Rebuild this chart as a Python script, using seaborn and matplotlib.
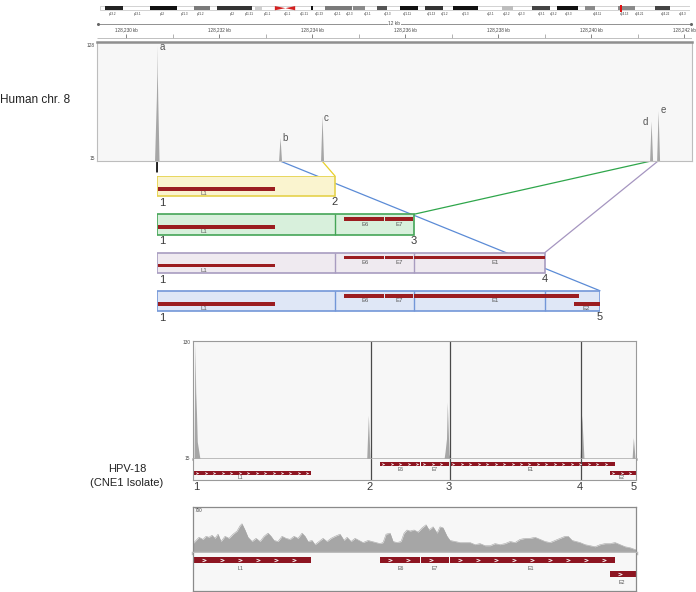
import numpy as np
import pandas as pd
import matplotlib
matplotlib.use("Agg")
import matplotlib.pyplot as plt
from matplotlib.patches import Rectangle, Polygon, ConnectionPatch
import seaborn as sns

sns.set_theme(style="white")
plt.rcParams["font.family"] = ["Liberation Sans", "DejaVu Sans"]

# ------------------------------------------------------------------ data
# chromosome 8 ideogram (Mb)
chr8_length_mb = 145.1
band_start_mb = [1.2, 12.3, 23.1, 28.8, 38.1, 51.9, 55.3, 62.2, 68.1, 73.8,
                 79.9, 86.8, 98.9, 106.2, 112.4, 119.3, 127.4, 136.5]
band_end_mb = [5.7, 18.9, 27.0, 37.4, 39.8, 52.4, 62.0, 65.2, 70.6, 78.2,
               84.3, 93.0, 101.6, 110.7, 117.5, 121.7, 131.6, 140.2]
band_color = ["#222222", "#111111", "#7a7a7a", "#333333", "#cfcfcf", "#111111",
              "#7a7a7a", "#8a8a8a", "#555555", "#111111", "#333333", "#111111",
              "#bdbdbd", "#444444", "#111111", "#8a8a8a", "#8a8a8a", "#444444"]
centromere_mb = [43.0, 45.6, 48.0]
band_label = ["p23.2", "p23.1", "p22", "p21.3", "p21.2", "p12", "p11.21", "p11.1",
              "q11.1", "q11.21", "q11.23", "q12.1", "q12.3", "q13.1", "q13.3",
              "q21.11", "q21.13", "q21.2", "q21.3", "q22.1", "q22.2", "q22.3",
              "q23.1", "q23.2", "q23.3", "q24.11", "q24.13", "q24.21", "q24.22", "q24.3"]
band_label_mb = [3.2, 9.3, 15.2, 20.7, 24.8, 32.5, 36.6, 41.1, 46.2, 50.2, 53.9,
                 58.5, 61.5, 65.9, 70.8, 75.5, 81.6, 84.8, 89.8, 96.1, 100.1,
                 103.8, 108.7, 111.6, 115.3, 122.4, 128.9, 132.8, 139.0, 143.2]
region_mb = 128.23

# ruler (kb)
view_kb = [128229.376, 128242.17]
ruler_major_kb = [128230, 128232, 128234, 128236, 128238, 128240, 128242]
ruler_minor_kb = [128231, 128233, 128235, 128237, 128239, 128241]
ruler_span_text = "12 kb"

# human chr8 read coverage
chr_range = [15, 128]
chr_pos_kb = [128229.376, 128230.613, 128230.652, 128230.662, 128230.667, 128230.673,
              128230.682, 128230.710, 128233.280, 128233.312, 128233.344, 128234.183,
              128234.215, 128234.247, 128241.258, 128241.290, 128241.323, 128241.409,
              128241.441, 128241.473, 128242.17]
chr_depth = [15, 15, 76, 100, 128, 100, 76, 15, 15, 38, 15, 15, 59, 15, 15, 54, 15,
             15, 64, 15, 15]
peak_name = ["a", "b", "c", "d", "e"]
peak_kb = [128230.667, 128233.312, 128234.215, 128241.290, 128241.441]
peak_depth = [128, 38, 59, 54, 64]

# HPV-18 genome
hpv_length = 7857
breakpoint_bp = [0, 3157, 4558, 6882, 7857]
breakpoint_label = ["1", "2", "3", "4", "5"]
gene_name = ["L1", "E6", "E7", "E1", "E2"]
gene_start = [18, 3317, 4044, 4558, 7390]
gene_end = [2093, 4026, 4540, 7480, 7857]
gene_lane = [1, 0, 0, 0, 1]          # schematic rows and junction panel
gene_lane_expanded = [0, 0, 0, 0, 1]  # coverage panel annotation
gene_label_bp = [840, 3690, 4290, 5990, 7610]

# junction reads on HPV-18 (CNE1 isolate)
junction_range = [15, 130]
junction_pos = [0, 18, 35, 48, 62, 76, 124, 3081, 3110, 3140, 4452, 4470, 4496, 4510,
                4541, 4559, 6865, 6895, 6935, 7787, 7810, 7841, 7857]
junction_depth = [15, 15, 129, 81, 60, 32, 15, 15, 58, 15, 15, 22, 35, 71, 20, 15, 15,
                  58, 15, 15, 36, 15, 15]

# total HPV-18 coverage
cov_max = 700
cov_pos = [0, 53, 106, 177, 231, 284, 337, 390, 444, 497, 568, 639, 710, 781, 834, 869,
           922, 976, 1047, 1118, 1189, 1260, 1331, 1384, 1437, 1508, 1579, 1650, 1721,
           1792, 1863, 1934, 1987, 2040, 2111, 2164, 2235, 2306, 2377, 2448, 2519, 2608,
           2679, 2732, 2803, 2874, 2945, 3016, 3105, 3175, 3246, 3317, 3371, 3424, 3495,
           3548, 3619, 3690, 3743, 3796, 3850, 3921, 3992, 4062, 4133, 4187, 4258, 4329,
           4382, 4435, 4506, 4559, 4648, 4737, 4825, 4914, 5003, 5091, 5180, 5269, 5357,
           5446, 5535, 5624, 5712, 5801, 5890, 5978, 6067, 6156, 6245, 6333, 6422, 6511,
           6599, 6653, 6724, 6794, 6865, 6954, 7043, 7131, 7220, 7309, 7398, 7486, 7575,
           7664, 7752, 7857]
cov_depth = [143, 191, 239, 207, 254, 239, 270, 223, 286, 175, 254, 223, 286, 334, 414,
             445, 350, 239, 175, 223, 175, 254, 302, 254, 191, 175, 254, 223, 207, 254,
             223, 302, 254, 175, 191, 127, 175, 223, 175, 223, 254, 286, 191, 239, 175,
             223, 191, 159, 191, 175, 159, 143, 159, 286, 302, 175, 159, 175, 302, 350,
             334, 350, 318, 382, 429, 350, 398, 302, 398, 382, 254, 191, 175, 159, 159,
             159, 127, 143, 111, 111, 143, 127, 143, 175, 159, 207, 223, 223, 239, 207,
             175, 159, 191, 223, 254, 254, 191, 175, 159, 127, 111, 95, 127, 143, 143,
             159, 127, 95, 80, 48]

# ------------------------------------------------------------------ style
row_fill = ["#faf4cf", "#d8f0dc", "#efeaf0", "#dfe7f6"]
row_edge = ["#e5d24c", "#45a557", "#a89cc0", "#7397d8"]
link_color = ["#111111", "#5b8bd6", "#e8d02a", "#2fa64b", "#a595c0"]
gene_red = "#9b1d20"
igv_red = "#8d1521"
panel_bg = "#f7f7f7"
frame_col = "#9a9a9a"
cov_col = "#a6a6a6"
text_col = "#3a3a3a"

W, H = 696, 592
fig = plt.figure(figsize=(W / 100, H / 100), dpi=100)


def px_axes(x0, y0, x1, y1):
    return fig.add_axes([x0 / W, 1 - y1 / H, (x1 - x0) / W, (y1 - y0) / H])


def frame(ax, color=frame_col, lw=0.8):
    for s in ax.spines.values():
        s.set_visible(True)
        s.set_color(color)
        s.set_linewidth(lw)
    ax.set_xticks([])
    ax.set_yticks([])


# ------------------------------------------------------------------ ideogram
ax_id = px_axes(100, 3, 690, 17)
ax_id.set_xlim(0, chr8_length_mb)
ax_id.set_ylim(1, 0)
ax_id.axis("off")
ax_id.add_patch(Rectangle((0, 0.22), chr8_length_mb, 0.3, fill=False, ec="#b0b0b0", lw=0.4))
for s, e, c in zip(band_start_mb, band_end_mb, band_color):
    ax_id.add_patch(Rectangle((s, 0.22), e - s, 0.3, fc=c, ec="none"))
c0, cm, c1 = centromere_mb
ax_id.add_patch(Polygon([(c0, 0.22), (cm, 0.37), (c0, 0.52)], fc="#d42020", ec="none"))
ax_id.add_patch(Polygon([(c1, 0.22), (cm, 0.37), (c1, 0.52)], fc="#d42020", ec="none"))
ax_id.add_patch(Rectangle((region_mb - 0.25, 0.12), 0.5, 0.5, fc="#e01010", ec="none"))
for name, pos in zip(band_label, band_label_mb):
    ax_id.text(pos, 0.8, name, fontsize=2.2, ha="center", va="center", color="#333333")

# ------------------------------------------------------------------ ruler
ax_r = px_axes(97, 17, 692, 40)
ax_r.set_xlim(*view_kb)
ax_r.set_ylim(1, 0)
ax_r.axis("off")
mid_kb = (view_kb[0] + view_kb[1]) / 2
ax_r.hlines(0.3, view_kb[0] + 0.03, view_kb[1] - 0.03, color="#666666", lw=0.5)
ax_r.plot([view_kb[0] + 0.03, view_kb[1] - 0.03], [0.3, 0.3], ls="none",
          marker="o", ms=1.2, color="#666666")
ax_r.text(mid_kb, 0.3, ruler_span_text, fontsize=3.4, ha="center", va="center",
          color="#444444", bbox=dict(fc="white", ec="none", pad=0.6))
for kb in ruler_major_kb:
    ax_r.vlines(kb, 0.72, 0.9, color="#555555", lw=0.5)
    ax_r.text(kb, 0.57, f"{kb:,} kb", fontsize=3.3, ha="center", va="center", color="#444444")
for kb in ruler_minor_kb:
    ax_r.vlines(kb, 0.76, 0.9, color="#777777", lw=0.4)
ax_r.hlines(0.93, *view_kb, color="#b5b5b5", lw=0.6)

# ------------------------------------------------------------------ chr8 coverage
ax_c = px_axes(97, 42, 692, 161)
ax_c.set_facecolor(panel_bg)
ax_c.fill_between(chr_pos_kb, chr_range[0], chr_depth, color=cov_col, lw=0)
ax_c.set_xlim(*view_kb)
ax_c.set_ylim(chr_range[0], 131)
frame(ax_c, "#bdbdbd", 0.8)
ax_c.spines["top"].set_color("#8f8f8f")
ax_c.spines["top"].set_linewidth(1.8)
ax_c.text(-0.004, 0.97, str(chr_range[1]), transform=ax_c.transAxes, fontsize=3.4,
          ha="right", va="center", color="#444444")
ax_c.text(-0.004, 0.025, str(chr_range[0]), transform=ax_c.transAxes, fontsize=3.4,
          ha="right", va="center", color="#444444")
label_offsets = [(3.6, -1.4), (3.6, -0.7), (3.0, -1.4), (-4.3, -0.7), (3.6, 0.7)]
for n, kb, d, off in zip(peak_name, peak_kb, peak_depth, label_offsets):
    ax_c.annotate(n, (kb, d), xytext=off, textcoords="offset points", fontsize=7,
                  ha="center", va="center", color="#555555")

# ------------------------------------------------------------------ schematic rows
BOX_H = 0.53
lane_y = [0.08, 0.29]
lane_label_y = [0.26, 0.46]
ax_s = px_axes(157, 176, 600, 329)
ax_s.set_xlim(0, hpv_length)
ax_s.set_ylim(4, 0)
ax_s.axis("off")
for i in range(4):
    row_end = breakpoint_bp[i + 1]
    ax_s.add_patch(Rectangle((0, i), row_end, BOX_H, fc=row_fill[i], ec=row_edge[i],
                             lw=1.2, zorder=2))
    for b in breakpoint_bp[1:i + 1]:
        ax_s.vlines(b, i, i + BOX_H, color=row_edge[i], lw=1.0, zorder=3)
    for name, gs, ge, lane, lx in zip(gene_name, gene_start, gene_end, gene_lane, gene_label_bp):
        if gs >= row_end:
            continue
        ge_c = min(ge, row_end)
        ax_s.add_patch(Rectangle((gs, i + lane_y[lane]), ge_c - gs, 0.1, fc=gene_red,
                                 ec="none", zorder=4))
        ax_s.text(lx, i + lane_label_y[lane], name, fontsize=4.3, ha="center", va="center",
                  color="#5a5a5a", zorder=5)
    ax_s.text(breakpoint_bp[0] + 90, i + 0.71, breakpoint_label[0], fontsize=8,
              ha="center", va="center", color=text_col)
    ax_s.text(row_end, i + 0.69, breakpoint_label[i + 1], fontsize=8,
              ha="center", va="center", color=text_col)

# connecting lines from peaks to schematic
targets = [(breakpoint_bp[0], 0), (breakpoint_bp[4], 3), (breakpoint_bp[1], 0),
           (breakpoint_bp[2], 1), (breakpoint_bp[3], 2)]
for k, (kb, tgt, col) in enumerate(zip(peak_kb, targets, link_color)):
    con = ConnectionPatch(xyA=(kb, chr_range[0]), coordsA="data", axesA=ax_c,
                          xyB=tgt, coordsB="data", axesB=ax_s, color=col,
                          lw=1.3 if k == 0 else 0.9, shrinkB=3 if k == 0 else 0)
    con.set_zorder(-1)
    fig.add_artist(con)

# ------------------------------------------------------------------ HPV junction panel
ax_m = px_axes(193, 341, 636, 459)
ax_m.set_facecolor(panel_bg)
ax_m.fill_between(junction_pos, junction_range[0], junction_depth, color=cov_col, lw=0)
ax_m.set_xlim(0, hpv_length)
ax_m.set_ylim(junction_range[0], 131)
frame(ax_m, frame_col, 0.8)
ax_m.spines["bottom"].set_color("#ababab")
ax_m.spines["bottom"].set_linewidth(1.8)
for b in breakpoint_bp[1:4]:
    ax_m.axvline(b, color="#4a4a4a", lw=0.9)
ax_m.text(-0.006, 0.99, str(junction_range[1]), transform=ax_m.transAxes, fontsize=3.4,
          ha="right", va="center", color="#444444")
ax_m.text(-0.006, 0.0, str(junction_range[0]), transform=ax_m.transAxes, fontsize=3.4,
          ha="right", va="center", color="#444444")

ax_ma = px_axes(193, 459, 636, 480)
ax_ma.set_facecolor(panel_bg)
ax_ma.set_xlim(0, hpv_length)
ax_ma.set_ylim(1, 0)
frame(ax_ma, frame_col, 0.8)
ax_ma.spines["top"].set_visible(False)
for b in breakpoint_bp[1:4]:
    ax_ma.axvline(b, color="#4a4a4a", lw=0.9)
m_lane = [0.13, 0.58]
m_label = [0.5, 0.9]
for name, gs, ge, lane, lx in zip(gene_name, gene_start, gene_end, gene_lane, gene_label_bp):
    ax_ma.add_patch(Rectangle((gs, m_lane[lane]), ge - gs, 0.2, fc=igv_red, ec="none"))
    xs = np.arange(gs + 60, ge - 40, 150)
    ax_ma.plot(xs, np.full(len(xs), m_lane[lane] + 0.1), ls="none", marker="$>$",
               ms=1.6, color="white", mew=0.2)
    ax_ma.text(lx, m_label[lane], name, fontsize=3.6, ha="center", va="center",
               color="#555555")
for j, (b, lab) in enumerate(zip(breakpoint_bp, breakpoint_label)):
    dx = 60 if j == 0 else (-40 if j == len(breakpoint_bp) - 1 else -20)
    ax_ma.text(b + dx, 1.32, lab, fontsize=8, ha="center", va="center", color=text_col,
               clip_on=False)

# ------------------------------------------------------------------ HPV coverage panel
ax_b = px_axes(193, 507, 636, 553)
ax_b.set_facecolor(panel_bg)
ax_b.fill_between(cov_pos, 0, cov_depth, color=cov_col, lw=0)
sns.lineplot(x=cov_pos, y=cov_depth, ax=ax_b, color=cov_col, lw=0.4)
ax_b.set_xlim(0, hpv_length)
ax_b.set_ylim(0, cov_max)
ax_b.set_xlabel("")
ax_b.set_ylabel("")
frame(ax_b, "#8a8a8a", 0.9)
ax_b.spines["bottom"].set_color("#bdbdbd")
ax_b.spines["bottom"].set_linewidth(2.5)
ax_b.text(0.004, 0.93, str(cov_max), transform=ax_b.transAxes, fontsize=3.4,
          ha="left", va="center", color="#444444")

ax_ba = px_axes(193, 553, 636, 591)
ax_ba.set_facecolor(panel_bg)
ax_ba.set_xlim(0, hpv_length)
ax_ba.set_ylim(1, 0)
frame(ax_ba, "#8a8a8a", 0.9)
ax_ba.spines["top"].set_visible(False)
b_lane = [0.1, 0.47]
b_label = [0.42, 0.77]
for name, gs, ge, lane, lx in zip(gene_name, gene_start, gene_end, gene_lane_expanded,
                                  gene_label_bp):
    ax_ba.add_patch(Rectangle((gs, b_lane[lane]), ge - gs, 0.16, fc=igv_red, ec="none"))
    xs = np.arange(gs + 180, ge - 60, 320)
    ax_ba.plot(xs, np.full(len(xs), b_lane[lane] + 0.08), ls="none", marker="$>$",
               ms=2.6, color="white", mew=0.2)
    ax_ba.text(lx, b_label[lane], name, fontsize=3.8, ha="center", va="center",
               color="#555555")

# ------------------------------------------------------------------ side labels
fig.text(0.0, 1 - 100 / H, "Human chr. 8", fontsize=8.5, ha="left", va="center",
         color="#222222")
fig.text(127 / W, 1 - 469 / H, "HPV-18", fontsize=8, ha="center", va="center",
         color="#222222")
fig.text(127 / W, 1 - 483 / H, "(CNE1 Isolate)", fontsize=8, ha="center", va="center",
         color="#222222")

fig.savefig("out.png", dpi=100, facecolor="white")
